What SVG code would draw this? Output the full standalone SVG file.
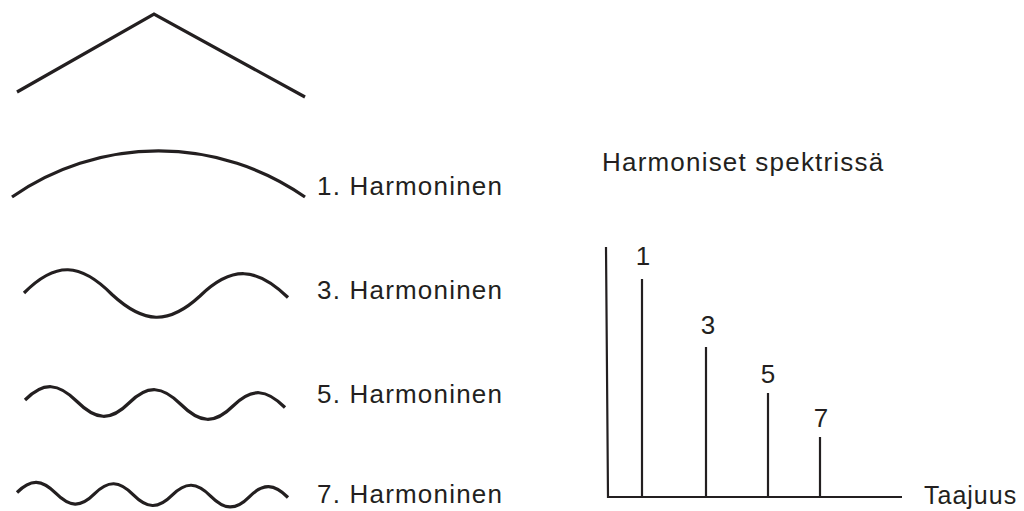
<svg xmlns="http://www.w3.org/2000/svg" width="1024" height="511" viewBox="0 0 1024 511">
<style>
.w{fill:none;stroke:#231f20;stroke-width:3.2;stroke-linecap:butt;stroke-linejoin:miter}
.ax{fill:none;stroke:#231f20;stroke-width:2.2}
.t{font-family:"Liberation Sans",Arial,sans-serif;font-size:26px;fill:#231f20;letter-spacing:1.2px}
.ta{font-family:"Liberation Sans",Arial,sans-serif;font-size:25px;fill:#231f20;letter-spacing:1px}
.n{font-family:"Liberation Sans",Arial,sans-serif;font-size:26px;fill:#231f20;text-anchor:middle}
</style>
<rect width="1024" height="511" fill="#ffffff"/>
<g id="triangle">
<polyline class="w" points="17,92 154,14 305,97"/>
</g>
<g id="harmonic1">
<path class="w" d="M12,197 A256,256 0 0 1 305,197"/>
<text class="t" x="317" y="195">1. Harmoninen</text>
</g>
<g id="harmonic3">
<path class="w" d="M24,293 C55.7,261 80.3,262.5 112,294.5 C143.7,323.8 168.3,325.3 200,296 C231.7,265.3 256.3,266.8 288,297.5"/>
<text class="t" x="317" y="299">3. Harmoninen</text>
</g>
<g id="harmonic5">
<path class="w" d="M25,400 C43.7,381.3 58.3,382.8 77,401.5 C95.7,420.2 110.3,421.7 129,403 C147.7,384.3 162.3,385.8 181,404.5 C199.7,423.2 214.3,424.7 233,406 C251.7,387.3 266.3,388.8 285,407.5"/>
<text class="t" x="317" y="403">5. Harmoninen</text>
</g>
<g id="harmonic7">
<path class="w" d="M17,492.5 C30.9,478.5 41.8,479.2 55.7,493.2 C69.6,507.2 80.5,507.9 94.4,493.9 C108.3,479.9 119.2,480.6 133.1,494.6 C147,508.6 158,509.4 171.9,495.4 C185.8,481.4 196.7,482.1 210.6,496.1 C224.5,510.1 235.4,510.8 249.3,496.8 C263.2,482.8 274.1,483.5 288,497.5"/>
<text class="t" x="317" y="503">7. Harmoninen</text>
</g>
<g id="spectrum-title">
<text class="t" x="602" y="171">Harmoniset spektrissä</text>
</g>
<g id="axes">
<path class="ax" d="M606,247 L608,497 L902,497"/>
<text class="ta" x="924" y="504">Taajuus</text>
</g>
<g id="bars">
<g id="bar1"><line class="ax" x1="642" y1="279" x2="642" y2="497"/><text class="n" x="643" y="265">1</text></g>
<g id="bar3"><line class="ax" x1="706" y1="347" x2="706" y2="497"/><text class="n" x="708" y="334">3</text></g>
<g id="bar5"><line class="ax" x1="768" y1="393" x2="768" y2="497"/><text class="n" x="768" y="383">5</text></g>
<g id="bar7"><line class="ax" x1="820" y1="437" x2="820" y2="497"/><text class="n" x="821" y="427">7</text></g>
</g>
</svg>
